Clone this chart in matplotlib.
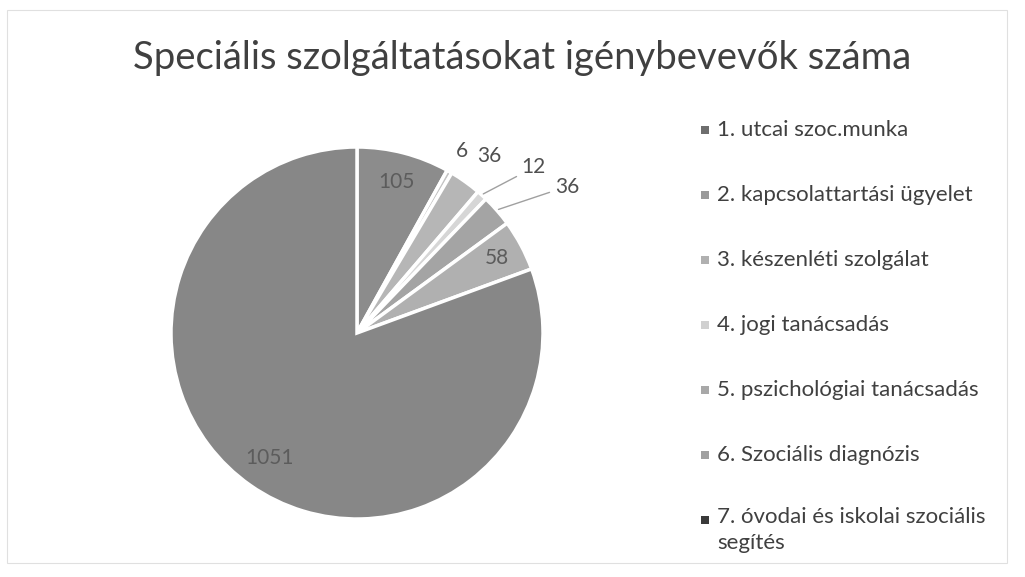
import numpy as np
import matplotlib
matplotlib.use('Agg')
import matplotlib.pyplot as plt
from matplotlib.patches import Rectangle

plt.rcParams['font.family'] = ['Lato', 'DejaVu Sans']

# data
categories = ['1. utcai szoc.munka',
              '2. kapcsolattartási ügyelet',
              '3. készenléti szolgálat',
              '4. jogi tanácsadás',
              '5. pszichológiai tanácsadás',
              '6. Szociális diagnózis',
              '7. óvodai és iskolai szociális\nsegítés']
values = [105, 6, 36, 12, 36, 58, 1051]
slice_colors = ['#8c8c8c', '#c4c4c4', '#b6b6b6', '#d6d6d6', '#a4a4a4', '#b0b0b0', '#878787']
legend_colors = ['#6e6e6e', '#9a9a9a', '#b0b0b0', '#d0d0d0', '#a8a8a8', '#a0a0a0', '#3a3a3a']
title = 'Speciális szolgáltatásokat igénybevevők száma'

W, H = 1025, 577
fig = plt.figure(figsize=(W / 100, H / 100), dpi=100)
fig.patch.set_facecolor('white')

# faint frame of the chart area
fig.patches.append(Rectangle((7 / W, 1 - 563 / H), 1000 / W, 553 / H,
                             transform=fig.transFigure, fill=False,
                             edgecolor='#e0e0e0', linewidth=0.8))

fig.text(522 / W, 1 - 58 / H, title, ha='center', va='center',
         fontsize=27.5, color='#404040')

# pie axes: centre (357, 333), radius 186 px
cx, cy, r = 357, 333, 186
ax = fig.add_axes([(cx - r) / W, (H - cy - r) / H, 2 * r / W, 2 * r / H])
wedges, _ = ax.pie(values, colors=slice_colors, startangle=90, counterclock=False,
                   radius=1, wedgeprops=dict(edgecolor='white', linewidth=2.5))
ax.set_xlim(-1, 1)
ax.set_ylim(-1, 1)
ax.set_aspect('equal')
ax.axis('off')

# label radius per slice (outside ones for the thin slices)
label_r = [0.84, 1.13, 1.19, 1.27, 1.34, 0.85, 0.82]
label_col = ['#5c5c5c', '#505050', '#505050', '#505050', '#505050', '#5c5c5c', '#5c5c5c']
label_ang = {2: 53.2, 3: 44.5, 4: 36.0}
total = float(sum(values))
start = 90.0
for i, (v, w) in enumerate(zip(values, wedges)):
    span = v / total * 360
    mid = np.deg2rad(start - span / 2)
    start -= span
    lr = label_r[i]
    ang = np.deg2rad(label_ang[i]) if i in label_ang else mid
    x, y = lr * np.cos(ang), lr * np.sin(ang)
    if i in (3, 4):
        ax.annotate(str(v), xy=(1.01 * np.cos(mid), 1.01 * np.sin(mid)),
                    xytext=(x - 0.02, y), ha='left', va='center', fontsize=15,
                    color=label_col[i], annotation_clip=False,
                    arrowprops=dict(arrowstyle='-', color='#a0a0a0', lw=1,
                                    shrinkA=2, shrinkB=0))
    else:
        ax.text(x, y, str(v), ha='center', va='center', fontsize=15,
                color=label_col[i])

# legend drawn on the right
lx, ly0, dy = 705, 130, 65
for i, (lab, c) in enumerate(zip(categories, legend_colors)):
    y = ly0 + i * dy
    fig.patches.append(Rectangle(((lx - 4) / W, 1 - (y + 4) / H), 8 / W, 8 / H,
                                 transform=fig.transFigure, facecolor=c,
                                 edgecolor='none'))
    if '\n' in lab:
        fig.text((lx + 12) / W, 1 - (y - 13) / H, lab, ha='left', va='top',
                 fontsize=16, color='#404040', linespacing=1.4)
    else:
        fig.text((lx + 12) / W, 1 - y / H, lab, ha='left', va='center',
                 fontsize=16, color='#404040')

fig.savefig('out.png', dpi=100)
